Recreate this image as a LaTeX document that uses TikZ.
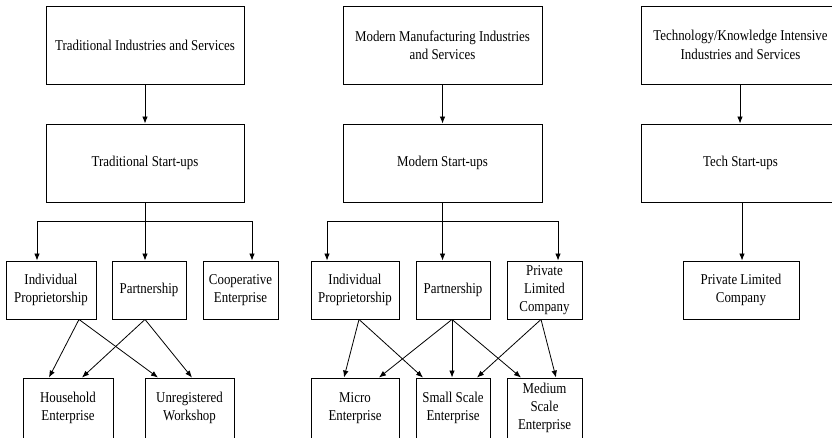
\documentclass[tikz,border=0pt]{standalone}
\usepackage{fontspec}
\setmainfont[FakeStretch=0.86]{Liberation Serif}
\usetikzlibrary{arrows.meta}
\tikzset{
  box/.style={draw, line width=0.9pt, align=center, inner sep=0pt,
    font=\fontsize{15}{18.3}\selectfont},
  big/.style={box, minimum width=198pt, minimum height=78pt},
  small/.style={box, minimum height=58pt},
  arr/.style={line width=0.8pt, -{Latex[length=7pt,width=5.5pt]}},
  ln/.style={line width=0.8pt}
}
\begin{document}
\begin{tikzpicture}[x=1pt,y=-1pt]
\useasboundingbox (0,0) rectangle (832,437);
% column 1
\node[big] (TIS) at (145,45) {Traditional Industries and Services};
\node[big] (TSU) at (145,163) {Traditional Start-ups};
\node[small, minimum width=90pt] (IPa) at (51,290) {Individual\\Proprietorship};
\node[small, minimum width=74pt] (Pa) at (149,290) {Partnership};
\node[small, minimum width=75pt] (CE) at (240.5,290) {Cooperative\\Enterprise};
\node[small, minimum width=90pt, minimum height=60pt] (HE) at (68,408) {Household\\Enterprise};
\node[small, minimum width=89pt, minimum height=60pt] (UW) at (189.5,408) {Unregistered\\Workshop};
\draw[arr] (TIS) -- (TSU);
\coordinate (ja) at (145,221);
\draw[ln] (TSU.south) -- (ja);
\draw[arr] (ja) -| ([xshift=-14pt]IPa.north);
\draw[arr] (ja) -- (ja |- Pa.north);
\draw[arr] (ja) -| ([xshift=11.5pt]CE.north);
\draw[arr] ([xshift=28pt]IPa.south) -- ([xshift=-19pt]HE.north);
\draw[arr] ([xshift=28pt]IPa.south) -- ([xshift=-31.5pt]UW.north);
\draw[arr] ([xshift=-4pt]Pa.south) -- ([xshift=14pt]HE.north);
\draw[arr] ([xshift=-4pt]Pa.south) -- ([xshift=2.5pt]UW.north);
% column 2
\node[big, minimum width=199pt] (MMIS) at (442.5,45) {Modern Manufacturing Industries\\and Services};
\node[big, minimum width=199pt] (MSU) at (442.5,163) {Modern Start-ups};
\node[small, minimum width=88pt] (IPb) at (355,290) {Individual\\Proprietorship};
\node[small, minimum width=74pt] (Pb) at (453,290) {Partnership};
\node[small, minimum width=75pt] (PLCb) at (544.5,290) {Private\\Limited\\Company};
\node[small, minimum width=88pt, minimum height=60pt] (ME) at (355,408) {Micro\\Enterprise};
\node[small, minimum width=74pt, minimum height=60pt] (SE) at (453,408) {Small Scale\\Enterprise};
\node[small, minimum width=75pt, minimum height=60pt] (MdE) at (544.5,408) {Medium\\Scale\\Enterprise};
\draw[arr] (MMIS) -- (MSU);
\coordinate (jb) at (442.5,221);
\draw[ln] (MSU.south) -- (jb);
\draw[arr] (jb) -| ([xshift=-28pt]IPb.north);
\draw[arr] (jb) -- (jb |- Pb.north);
\draw[arr] (jb) -| ([xshift=13.5pt]PLCb.north);
\draw[arr] ([xshift=4pt]IPb.south) -- ([xshift=-11pt]ME.north);
\draw[arr] ([xshift=4pt]IPb.south) -- ([xshift=-30pt]SE.north);
\draw[arr] ([xshift=-1pt]Pb.south) -- ([xshift=24pt]ME.north);
\draw[arr] ([xshift=-1pt]Pb.south) -- ([xshift=-1pt]SE.north);
\draw[arr] ([xshift=-1pt]Pb.south) -- ([xshift=-23.5pt]MdE.north);
\draw[arr] ([xshift=-3.5pt]PLCb.south) -- ([xshift=24pt]SE.north);
\draw[arr] ([xshift=-3.5pt]PLCb.south) -- ([xshift=11.5pt]MdE.north);
% column 3
\node[big, minimum width=199pt] (TKIS) at (740.5,45) {Technology/Knowledge Intensive\\Industries and Services};
\node[big, minimum width=199pt] (TSUc) at (740.5,163) {Tech Start-ups};
\node[small, minimum width=116pt] (PLCc) at (741,290) {Private Limited\\Company};
\draw[arr] ([xshift=-0.5pt]TKIS.south) -- ([xshift=-0.5pt]TSUc.north);
\draw[arr] ([xshift=1.5pt]TSUc.south) -- ([xshift=1pt]PLCc.north);
\end{tikzpicture}
\end{document}
